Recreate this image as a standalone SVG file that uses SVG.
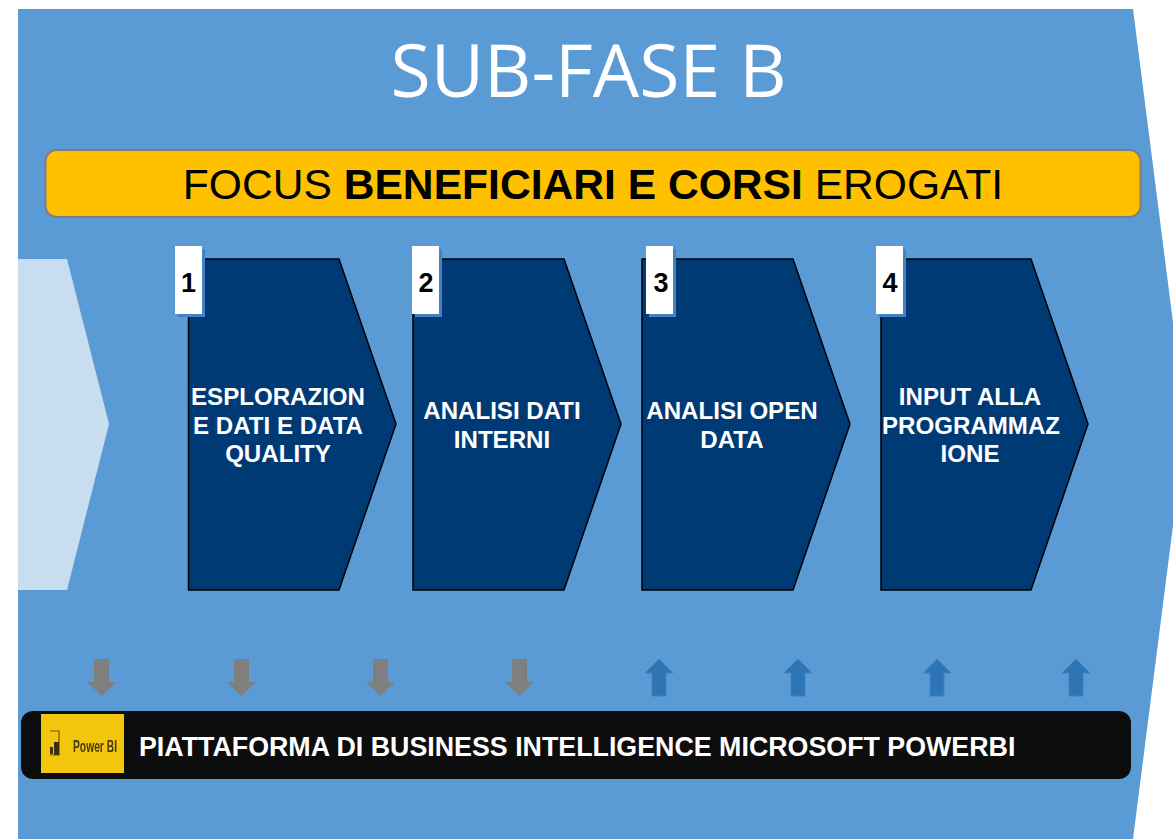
<svg xmlns="http://www.w3.org/2000/svg" width="1173" height="839" viewBox="0 0 1173 839">
<defs><filter id="soft" x="-10%" y="-10%" width="120%" height="120%"><feGaussianBlur stdDeviation="0.6"/></filter></defs>
<style>
.t{font-family:"Liberation Sans",Arial,sans-serif}
.step{fill:#003a75;stroke:#000;stroke-width:1.5}
.lbl{font-family:"Liberation Sans",Arial,sans-serif;font-weight:700;font-size:24.100px;fill:#fff;text-anchor:middle}
.num{font-family:"Liberation Sans",Arial,sans-serif;font-weight:700;font-size:27px;fill:#000;text-anchor:middle}
.tab{fill:#fff}
.tabs{fill:#3f84c6}
.down{fill:#7f7f7f}
.up{fill:#2e75b6;stroke:#3f82c0;stroke-width:1}
</style>
<rect width="1173" height="839" fill="#fff"/>
<polygon id="background" points="18,9 1133,9 1186,424 1133,839 18,839" fill="#5b9bd5"/>
<text id="title" x="588.500" y="97" text-anchor="middle" font-size="73.300" fill="#fff" font-family="'Open Sans',sans-serif">SUB-FASE B</text>
<g id="focus-bar">
<rect x="45.500" y="150" width="1095" height="67" rx="11" fill="#ffc000" stroke="#7c7f80" stroke-width="2"/>
<text class="t" x="593" y="199" text-anchor="middle" font-size="42.600" fill="#000">FOCUS <tspan font-weight="700">BENEFICIARI E CORSI</tspan> EROGATI</text>
</g>
<polygon id="previous-phase" points="18,259 67,259 109,424 67,590 18,590" fill="#c9ddf0"/>
<g id="step-1">
<polygon class="step" points="188.500,259 339,259 396,424 339,590 188.500,590"/>
<rect class="tabs" x="178" y="249" width="27" height="68"/>
<rect class="tab" x="175" y="246" width="27" height="68"/>
<text class="num" x="188.500" y="292">1</text>
<text class="lbl" x="278" y="405">ESPLORAZION</text>
<text class="lbl" x="278" y="433.500">E DATI E DATA</text>
<text class="lbl" x="278" y="461.500">QUALITY</text>
</g>
<g id="step-2">
<polygon class="step" points="413,259 564,259 621,424 564,590 413,590"/>
<rect class="tabs" x="415" y="249" width="27" height="68"/>
<rect class="tab" x="412" y="246" width="27" height="68"/>
<text class="num" x="426" y="292">2</text>
<text class="lbl" x="502" y="419">ANALISI DATI</text>
<text class="lbl" x="502" y="447.500">INTERNI</text>
</g>
<g id="step-3">
<polygon class="step" points="642,259 793,259 850,424 793,590 642,590"/>
<rect class="tabs" x="649" y="249" width="27" height="68"/>
<rect class="tab" x="646" y="246" width="27" height="68"/>
<text class="num" x="661" y="292">3</text>
<text class="lbl" x="732" y="419">ANALISI OPEN</text>
<text class="lbl" x="732" y="447.500">DATA</text>
</g>
<g id="step-4">
<polygon class="step" points="881,259 1031,259 1088,424 1031,590 881,590"/>
<rect class="tabs" x="879" y="249" width="27" height="68"/>
<rect class="tab" x="876" y="246" width="27" height="68"/>
<text class="num" x="890" y="292">4</text>
<text class="lbl" x="970" y="405">INPUT ALLA</text>
<text class="lbl" x="971" y="433.500">PROGRAMMAZ</text>
<text class="lbl" x="970" y="461.500">IONE</text>
</g>
<g id="connectors">
<polygon class="down" points="94,659 109,659 109,682 116,682 102,696 87,682 94,682"/>
<polygon class="down" points="234,659 249,659 249,682 256,682 241.500,696 227,682 234,682"/>
<polygon class="down" points="373,659 388,659 388,682 395,682 380.500,696 366,682 373,682"/>
<polygon class="down" points="512,659 527,659 527,682 534,682 519.500,696 505,682 512,682"/>
<polygon class="up" points="659,659 673,673 666,673 666,696 652,696 652,673 645,673"/>
<polygon class="up" points="798,659 812,673 805,673 805,696 791,696 791,673 784,673"/>
<polygon class="up" points="937,659 951,673 944,673 944,696 930,696 930,673 923,673"/>
<polygon class="up" points="1076,659 1090,673 1083,673 1083,696 1069,696 1069,673 1062,673"/>
</g>
<g id="platform-bar">
<rect x="21" y="711" width="1110" height="68" rx="12" fill="#0d0d0d"/>
<rect x="41" y="714" width="83" height="59" fill="#f2c60c"/>
<g filter="url(#soft)">
<path d="M50 731 H59 V755 H50" fill="none" stroke="#6b5208" stroke-width="1.200"/>
<rect x="50" y="747" width="3" height="7" fill="#3a2e08"/>
<rect x="54" y="742" width="5" height="13" fill="#3a2e08"/>
<text class="t" x="95" y="752" text-anchor="middle" font-size="17" font-weight="700" fill="#4a3a08" textLength="44" lengthAdjust="spacingAndGlyphs">Power BI</text>
</g>
<text class="t" x="139" y="756" font-size="26.800" font-weight="700" fill="#fff">PIATTAFORMA DI BUSINESS INTELLIGENCE MICROSOFT POWERBI</text>
</g>
</svg>
